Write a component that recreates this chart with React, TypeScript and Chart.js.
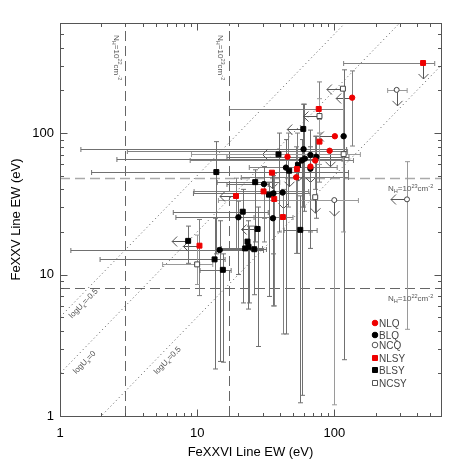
import React, { useEffect, useRef } from 'react';
import { Chart, registerables } from 'chart.js';
Chart.register(...registerables);

// [x, y, xlo, xhi, ylo, yhi, flags]  flags: 1 = upper limit on x (arrow left), 2 = upper limit on y (arrow down)
type Pt = [number, number, number | null, number | null, number | null, number | null, number];

const nlq: Pt[] = [
  [135, 178, null, null, 81, 275, 1],
  [101, 95, null, null, null, null, 1],
  [92.5, 75, 3.1, 125, null, null, 2],
  [72.6, 64, 8.9, 138, 40, 95, 0],
  [67, 58, 24, 105, null, null, 2],
  [45.6, 68, null, null, 30, 100, 0],
  [52.8, 48.7, 21, 127, 14.1, 80, 0],
];

const blq: Pt[] = [
  [117, 95, null, null, 2.5, 280, 0],
  [59.7, 77, 1.42, 123, 28, 160, 0],
  [67, 70, null, null, 15.3, 105, 0],
  [74, 68, 16.5, 128, 25, 95, 0],
  [61, 66, 2.6, 114, null, null, 0],
  [58, 64, null, null, 1.4, 90, 0],
  [67, 56, null, null, 20, 80, 0],
  [44.4, 57, null, null, 3.8, 90, 0],
  [30.7, 43.6, 16.5, 33, 25, 58, 0],
  [36, 37.5, null, null, 14, 50, 0],
  [42, 38, 9.4, 66.7, null, null, 2],
  [35.7, 25, null, null, 6.0, 38, 0],
  [20, 25.4, 7, 40, 10, 33, 0],
  [14.6, 14.9, 1.2, 30.5, 2.43, 24, 0],
];

const ncq: Pt[] = [
  [285, 202, 245, 340, null, null, 2],
  [339, 34, null, null, 4.1, 62.8, 1],
  [100, 33.6, 14.3, 150, 1.2, null, 2],
];

const nlsy: Pt[] = [
  [444, 313, 117, 540, null, null, 2],
  [77, 148, 17.2, 117, 100, 230, 0],
  [78, 87, null, null, 45, 125, 0],
  [53.4, 55.7, null, null, 14.1, 100, 0],
  [35.1, 52.5, null, null, null, null, 2],
  [19.2, 35.9, null, null, 15, 48, 1],
  [30.5, 38.7, 9.5, 65, 17, 45, 0],
  [36.5, 34.2, null, null, 6, 52, 0],
  [42.2, 25.5, 26, 50, 3.8, 40, 0],
  [10.4, 16, null, null, 7.1, 24.5, 1],
];

const blsy: Pt[] = [
  [59.4, 107, null, null, 30, 160, 1],
  [39.2, 70.7, null, null, 20, 100, 1],
  [54.3, 59.4, null, null, null, null, 2],
  [46.9, 54.2, null, null, null, null, 2],
  [13.8, 53, 1.7, 127, 14, 87, 0],
  [26.5, 45, 14, 40, 17, 55, 0],
  [33.4, 36.7, null, null, 7, 45, 0],
  [21.5, 27.8, 6.7, 33, 6.3, 40, 0],
  [27.6, 21, null, null, 3.1, 30, 1],
  [56.5, 20.7, 43, 75, 1.24, 36, 0],
  [8.6, 17.3, null, null, 12, 22, 1],
  [23.3, 17.1, null, null, 5.7, 24, 0],
  [22.4, 15.3, 15, 30, null, null, 0],
  [23.7, 15.7, null, null, 6.3, 22, 0],
  [26.1, 15.1, 14, 32, 7.2, 22, 0],
  [13.4, 12.8, 1.96, 16, 2.15, 25, 0],
  [15.4, 10.8, 10.5, 17.7, 2.4, 14, 0],
];

const ncsy: Pt[] = [
  [115.6, 206, null, null, 20, null, 1],
  [78, 132, null, null, 60, 175, 1],
  [117, 71, 9.1, 155, null, null, 0],
  [72.6, 35.2, null, null, null, null, 2],
  [10, 11.8, 5.6, 13, 8.5, 19, 0],
];

const xMajor = [1, 10, 100];
const yMajor = [1, 10, 100];
const nhColumnX = [3, 17];       // vertical dashed lines
const nhColumnLabels = ['22', '23'];
const nhRowY = [48, 8];          // horizontal dashed lines
const nhRowLabels = ['23', '22'];
const uRatios = [5, 2, 0.5];     // y = ratio * x
const uLabels = ['-0.5', '0', '0.5'];

const seriesNames = ['NLQ', 'BLQ', 'NCQ', 'NLSY', 'BLSY', 'NCSY'];

const FONT = "'Liberation Sans', Arial, sans-serif";

function drawRich(ctx: CanvasRenderingContext2D, parts: [string, number][], x: number, y: number, size: number) {
  let cx = x;
  for (const [t, mode] of parts) {
    const s = mode === 0 ? size : size * 0.7;
    ctx.font = `${s}px ${FONT}`;
    const dy = mode === 1 ? -size * 0.4 : mode === -1 ? size * 0.25 : 0;
    ctx.fillText(t, cx, y + dy);
    cx += ctx.measureText(t).width;
  }
  return cx - x;
}
function richWidth(ctx: CanvasRenderingContext2D, parts: [string, number][], size: number) {
  let w = 0;
  for (const [t, mode] of parts) {
    const s = mode === 0 ? size : size * 0.7;
    ctx.font = `${s}px ${FONT}`;
    w += ctx.measureText(t).width;
  }
  return w;
}

const overlayPlugin = {
  id: 'overlay',
  beforeDatasetsDraw(chart: any) {
    const ctx: CanvasRenderingContext2D = chart.ctx;
    const xs = chart.scales.x, ys = chart.scales.y;
    const a = chart.chartArea;
    ctx.save();
    ctx.beginPath();
    ctx.rect(a.left, a.top, a.right - a.left, a.bottom - a.top);
    ctx.clip();
    // dashed NH lines
    ctx.setLineDash([10, 5]);
    ctx.lineWidth = 1;
    ctx.strokeStyle = '#666';
    nhColumnX.forEach((v) => {
      const px = Math.round(xs.getPixelForValue(v)) + 0.5;
      ctx.beginPath(); ctx.moveTo(px, a.bottom); ctx.lineTo(px, a.top); ctx.stroke();
    });
    nhRowY.forEach((v, i) => {
      const py = Math.round(ys.getPixelForValue(v)) + 0.5;
      ctx.strokeStyle = i === 0 ? '#aaa' : '#666';
      ctx.lineWidth = i === 0 ? 1.5 : 1;
      ctx.beginPath(); ctx.moveTo(a.left, py); ctx.lineTo(a.right, py); ctx.stroke();
    });
    // dotted logU lines
    ctx.setLineDash([1, 3]);
    ctx.strokeStyle = '#555';
    ctx.lineWidth = 1;
    uRatios.forEach((r) => {
      const x0 = 0.5, x1 = 2000;
      ctx.beginPath();
      ctx.moveTo(xs.getPixelForValue(x0), ys.getPixelForValue(r * x0));
      ctx.lineTo(xs.getPixelForValue(x1), ys.getPixelForValue(r * x1));
      ctx.stroke();
    });
    ctx.setLineDash([]);

    // error bars and limit arrows
    const groups: [Pt[], string][] = [
      [nlq, '#808080'], [blq, '#707070'], [ncq, '#9a9a9a'],
      [nlsy, '#808080'], [blsy, '#707070'], [ncsy, '#9a9a9a'],
    ];
    const cap = 2.5;
    const arrowLen = 16, head = 5;
    groups.forEach(([arr, col]) => {
      ctx.strokeStyle = col;
      ctx.lineWidth = 1;
      arr.forEach((p) => {
        const [x, y, xlo, xhi, ylo, yhi, fl] = p;
        const px = xs.getPixelForValue(x), py = ys.getPixelForValue(y);
        if (xlo != null || xhi != null) {
          const l = xs.getPixelForValue(xlo ?? x), r = xs.getPixelForValue(xhi ?? x);
          const yy = Math.round(py) + 0.5;
          ctx.beginPath(); ctx.moveTo(l, yy); ctx.lineTo(r, yy);
          if (xlo != null) { ctx.moveTo(l, yy - cap); ctx.lineTo(l, yy + cap); }
          if (xhi != null) { ctx.moveTo(r, yy - cap); ctx.lineTo(r, yy + cap); }
          ctx.stroke();
        }
        if (ylo != null || yhi != null) {
          const b = ys.getPixelForValue(ylo ?? y), t = ys.getPixelForValue(yhi ?? y);
          const xx = Math.round(px) + 0.5;
          ctx.beginPath(); ctx.moveTo(xx, b); ctx.lineTo(xx, t);
          if (ylo != null) { ctx.moveTo(xx - cap, b); ctx.lineTo(xx + cap, b); }
          if (yhi != null) { ctx.moveTo(xx - cap, t); ctx.lineTo(xx + cap, t); }
          ctx.stroke();
        }
        ctx.strokeStyle = '#555';
        if (fl & 1) {
          const yy = Math.round(py) + 0.5, tip = px - arrowLen;
          ctx.beginPath(); ctx.moveTo(px, yy); ctx.lineTo(tip, yy);
          ctx.moveTo(tip + head, yy - head); ctx.lineTo(tip, yy); ctx.lineTo(tip + head, yy + head);
          ctx.stroke();
        }
        if (fl & 2) {
          const xx = Math.round(px) + 0.5, tip = py + arrowLen;
          ctx.beginPath(); ctx.moveTo(xx, py); ctx.lineTo(xx, tip);
          ctx.moveTo(xx - head, tip - head); ctx.lineTo(xx, tip); ctx.lineTo(xx + head, tip - head);
          ctx.stroke();
        }
        ctx.strokeStyle = col;
      });
    });
    ctx.restore();

    // annotations
    ctx.save();
    ctx.fillStyle = '#555';
    ctx.textBaseline = 'alphabetic';
    const fs = 8;
    nhColumnX.forEach((v, i) => {
      const parts: [string, number][] = [['N', 0], ['H', -1], ['=10', 0], [nhColumnLabels[i], 1], ['cm', 0], ['-2', 1]];
      const px = xs.getPixelForValue(v);
      const w = richWidth(ctx, parts, fs);
      ctx.save();
      ctx.translate(px - 11, a.top + 12);
      ctx.rotate(Math.PI / 2);
      drawRich(ctx, parts, 0, 0, fs);
      ctx.restore();
      void w;
    });
    nhRowY.forEach((v, i) => {
      const parts: [string, number][] = [['N', 0], ['H', -1], ['=10', 0], [nhRowLabels[i], 1], ['cm', 0], ['-2', 1]];
      const py = ys.getPixelForValue(v);
      drawRich(ctx, parts, 388, py + 13, fs);
    });
    const uPos = [[83, 303], [84, 362], [167, 360]];
    uRatios.forEach((r, i) => {
      const parts: [string, number][] = [['logU', 0], ['x', -1], ['=' + uLabels[i], 0]];
      const w = richWidth(ctx, parts, fs);
      ctx.save();
      ctx.translate(uPos[i][0], uPos[i][1]);
      ctx.rotate(-Math.atan2(141.7, 137));
      drawRich(ctx, parts, -w / 2, 3, fs);
      ctx.restore();
      void r;
    });
    ctx.restore();
  },
  afterDraw(chart: any) {
    const ctx: CanvasRenderingContext2D = chart.ctx;
    const xs = chart.scales.x, ys = chart.scales.y;
    const a = chart.chartArea;
    ctx.save();
    ctx.strokeStyle = '#555';
    ctx.lineWidth = 1;
    const L = Math.round(a.left) + 0.5, R = Math.round(a.right) + 0.5;
    const T = Math.round(a.top) + 0.5, B = Math.round(a.bottom) + 0.5;
    ctx.strokeRect(L, T, R - L, B - T);
    const vals: [number, boolean][] = [];
    for (let d = 1; d <= 100; d *= 10) for (let m = 1; m <= 9; m++) vals.push([m * d, m === 1]);
    ctx.beginPath();
    vals.forEach(([v, major]) => {
      const len = major ? 7 : 3.5;
      if (v <= 600) {
        const px = Math.round(xs.getPixelForValue(v)) + 0.5;
        ctx.moveTo(px, B); ctx.lineTo(px, B - len);
        ctx.moveTo(px, T); ctx.lineTo(px, T + len);
        const py = Math.round(ys.getPixelForValue(v)) + 0.5;
        ctx.moveTo(L, py); ctx.lineTo(L + len, py);
        ctx.moveTo(R, py); ctx.lineTo(R - len, py);
      }
    });
    ctx.stroke();

    // legend
    const rows = [323, 335, 345, 358, 370, 383];
    const sx = 375;
    ctx.font = `10px ${FONT}`;
    ctx.textBaseline = 'middle';
    ctx.textAlign = 'left';
    seriesNames.forEach((name, i) => {
      const y = rows[i];
      const isSq = i >= 3;
      const kind = i % 3;
      const fill = kind === 0 ? '#ee0000' : kind === 1 ? '#000' : null;
      ctx.lineWidth = 1;
      ctx.strokeStyle = fill ?? '#555';
      ctx.fillStyle = fill ?? '#fff';
      ctx.beginPath();
      if (isSq) ctx.rect(sx - 2.5, y - 2.5, 5, 5);
      else ctx.arc(sx, y, 2.8, 0, Math.PI * 2);
      if (fill) ctx.fill();
      ctx.stroke();
      ctx.fillStyle = '#444';
      ctx.fillText(name, sx + 4, y + 1);
    });
    ctx.restore();
  },
};

function makeDs(arr: Pt[], style: string, fill: string, border: string, r: number) {
  return {
    data: arr.map((p) => ({ x: p[0], y: p[1] })),
    pointStyle: style,
    pointRadius: r,
    pointHoverRadius: r,
    backgroundColor: fill,
    borderColor: border,
    borderWidth: 1,
    showLine: false,
  };
}

export default function App() {
  const ref = useRef<HTMLCanvasElement>(null);
  useEffect(() => {
    if (!ref.current) return;
    const isMajor = (v: number) => Math.abs(Math.log10(v) - Math.round(Math.log10(v))) < 1e-9;
    const chart = new Chart(ref.current, {
      type: 'scatter',
      data: {
        datasets: [
          makeDs(nlq, 'circle', '#ee0000', '#ee0000', 2.7),
          makeDs(blq, 'circle', '#000', '#000', 2.7),
          makeDs(ncq, 'circle', '#fff', '#444', 2.5),
          makeDs(nlsy, 'rect', '#ee0000', '#ee0000', 3.5),
          makeDs(blsy, 'rect', '#000', '#000', 3.5),
          makeDs(ncsy, 'rect', '#fff', '#444', 3.5),
        ] as any,
      },
      options: {
        responsive: false,
        animation: false,
        events: [],
        layout: { padding: { top: 23, right: 22, left: 0, bottom: 0 } },
        plugins: { legend: { display: false }, tooltip: { enabled: false } },
        scales: {
          x: {
            type: 'logarithmic', min: 1, max: 600, position: 'bottom',
            grid: { display: false, drawTicks: false },
            border: { display: false },
            ticks: {
              autoSkip: false, maxRotation: 0, padding: 10, color: '#000',
              font: { family: FONT, size: 13 },
              callback: (v: any) => (isMajor(Number(v)) && Number(v) <= 100 ? String(Number(v)) : ''),
            },
            title: { display: true, text: 'FeXXVI Line EW (eV)', color: '#000', font: { family: FONT, size: 13 }, padding: { top: 0, bottom: 3 } },
            afterFit: (s: any) => { s.height = 47; },
          },
          y: {
            type: 'logarithmic', min: 1, max: 600, position: 'left',
            grid: { display: false, drawTicks: false },
            border: { display: false },
            ticks: {
              autoSkip: false, padding: 6, color: '#000',
              font: { family: FONT, size: 13 },
              callback: (v: any) => (isMajor(Number(v)) && Number(v) <= 100 ? String(Number(v)) : ''),
            },
            title: { display: true, text: 'FeXXV Line EW (eV)', color: '#000', font: { family: FONT, size: 13 }, padding: { top: 9, bottom: 0 } },
            afterFit: (s: any) => { s.width = 60; },
          },
        },
      } as any,
      plugins: [overlayPlugin],
    });
    return () => chart.destroy();
  }, []);
  return (
    <div style={{ position: 'fixed', left: 0, top: 0, width: 463, height: 463, background: '#fff' }}>
      <canvas ref={ref} width={463} height={463} style={{ display: 'block' }} />
    </div>
  );
}
